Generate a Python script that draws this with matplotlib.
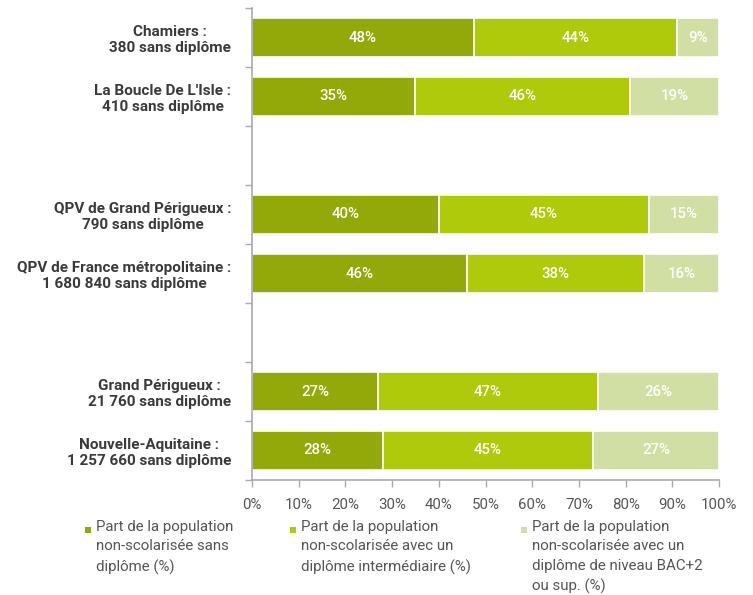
import matplotlib
matplotlib.use("Agg")
import matplotlib.pyplot as plt
from matplotlib.patches import Rectangle
import numpy as np

plt.rcParams['font.family'] = ['Roboto', 'DejaVu Sans']

categories = [
    "Chamiers :\n380 sans diplôme",
    "La Boucle De L'Isle :\n410 sans diplôme",
    "QPV de Grand Périgueux :\n790 sans diplôme",
    "QPV de France métropolitaine :\n1 680 840 sans diplôme",
    "Grand Périgueux :\n21 760 sans diplôme",
    "Nouvelle-Aquitaine :\n1 257 660 sans diplôme",
]
sans_diplome = [48, 35, 40, 46, 27, 28]
intermediaire = [44, 46, 45, 38, 47, 45]
bac2_plus = [9, 19, 15, 16, 26, 27]
series_names = [
    "Part de la population\nnon-scolarisée sans\ndiplôme (%)",
    "Part de la population\nnon-scolarisée avec un\ndiplôme intermédiaire (%)",
    "Part de la population\nnon-scolarisée avec un\ndiplôme de niveau BAC+2\nou sup. (%)",
]
colors = ["#93A809", "#AFCA0B", "#D1DFA4"]
xticks = [0, 10, 20, 30, 40, 50, 60, 70, 80, 90, 100]

# slot positions (two empty slots as separators)
slots = [0, 1, 3, 4, 6, 7]
n_slots = 8

fig = plt.figure(figsize=(7.53, 5.95), dpi=100)
ax = fig.add_axes([252/753, 1-480/595, (719-252)/753, (480-8)/595])

series = np.array([sans_diplome, intermediaire, bac2_plus], dtype=float)
totals = series.sum(axis=0)
shares = series / totals * 100
left = np.zeros(len(categories))
for s in range(3):
    ax.barh(slots, shares[s], left=left, height=0.66, color=colors[s],
            edgecolor="white", linewidth=1.2)
    for i, (l, w) in enumerate(zip(left, shares[s])):
        ax.text(l + w/2, slots[i], f"{int(series[s][i])}%", ha="center", va="center",
                color="white", fontsize=10.8, fontweight="medium")
    left += shares[s]

ax.set_xlim(0, 100)
ax.set_ylim(n_slots - 0.5, -0.5)
ax.set_yticks(slots)
ax.set_yticklabels(categories, fontsize=11, fontweight="bold", color="#3a3a3a",
                   ha="right", multialignment="center", linespacing=1.2)
ax.tick_params(axis="y", length=0, pad=15)
ax.set_yticks(np.arange(-0.5, n_slots + 0.5, 1), minor=True)
ax.tick_params(axis="y", which="minor", length=5, color="#aaaaaa", width=1)
ax.set_xticks(xticks)
ax.set_xticklabels([f"{t}%" for t in xticks], fontsize=10.8, color="#555555")
ax.tick_params(axis="x", length=5, color="#aaaaaa", width=1, pad=8)
for sp in ["top", "right"]:
    ax.spines[sp].set_visible(False)
for sp in ["left", "bottom"]:
    ax.spines[sp].set_color("#aaaaaa")
    ax.spines[sp].set_linewidth(1.2)

# legend
leg_x = [85, 290, 521]
for i in range(3):
    x0 = leg_x[i] / 753
    fig.add_artist(Rectangle((x0, 1-533/595), 6/753, 6/595, transform=fig.transFigure,
                             facecolor=colors[i], edgecolor="none"))
    fig.text(x0 + 11/753, 1-520/595, series_names[i], ha="left", va="top",
             fontsize=10.8, color="#555555", linespacing=1.5)

fig.savefig("out.png", dpi=100)
